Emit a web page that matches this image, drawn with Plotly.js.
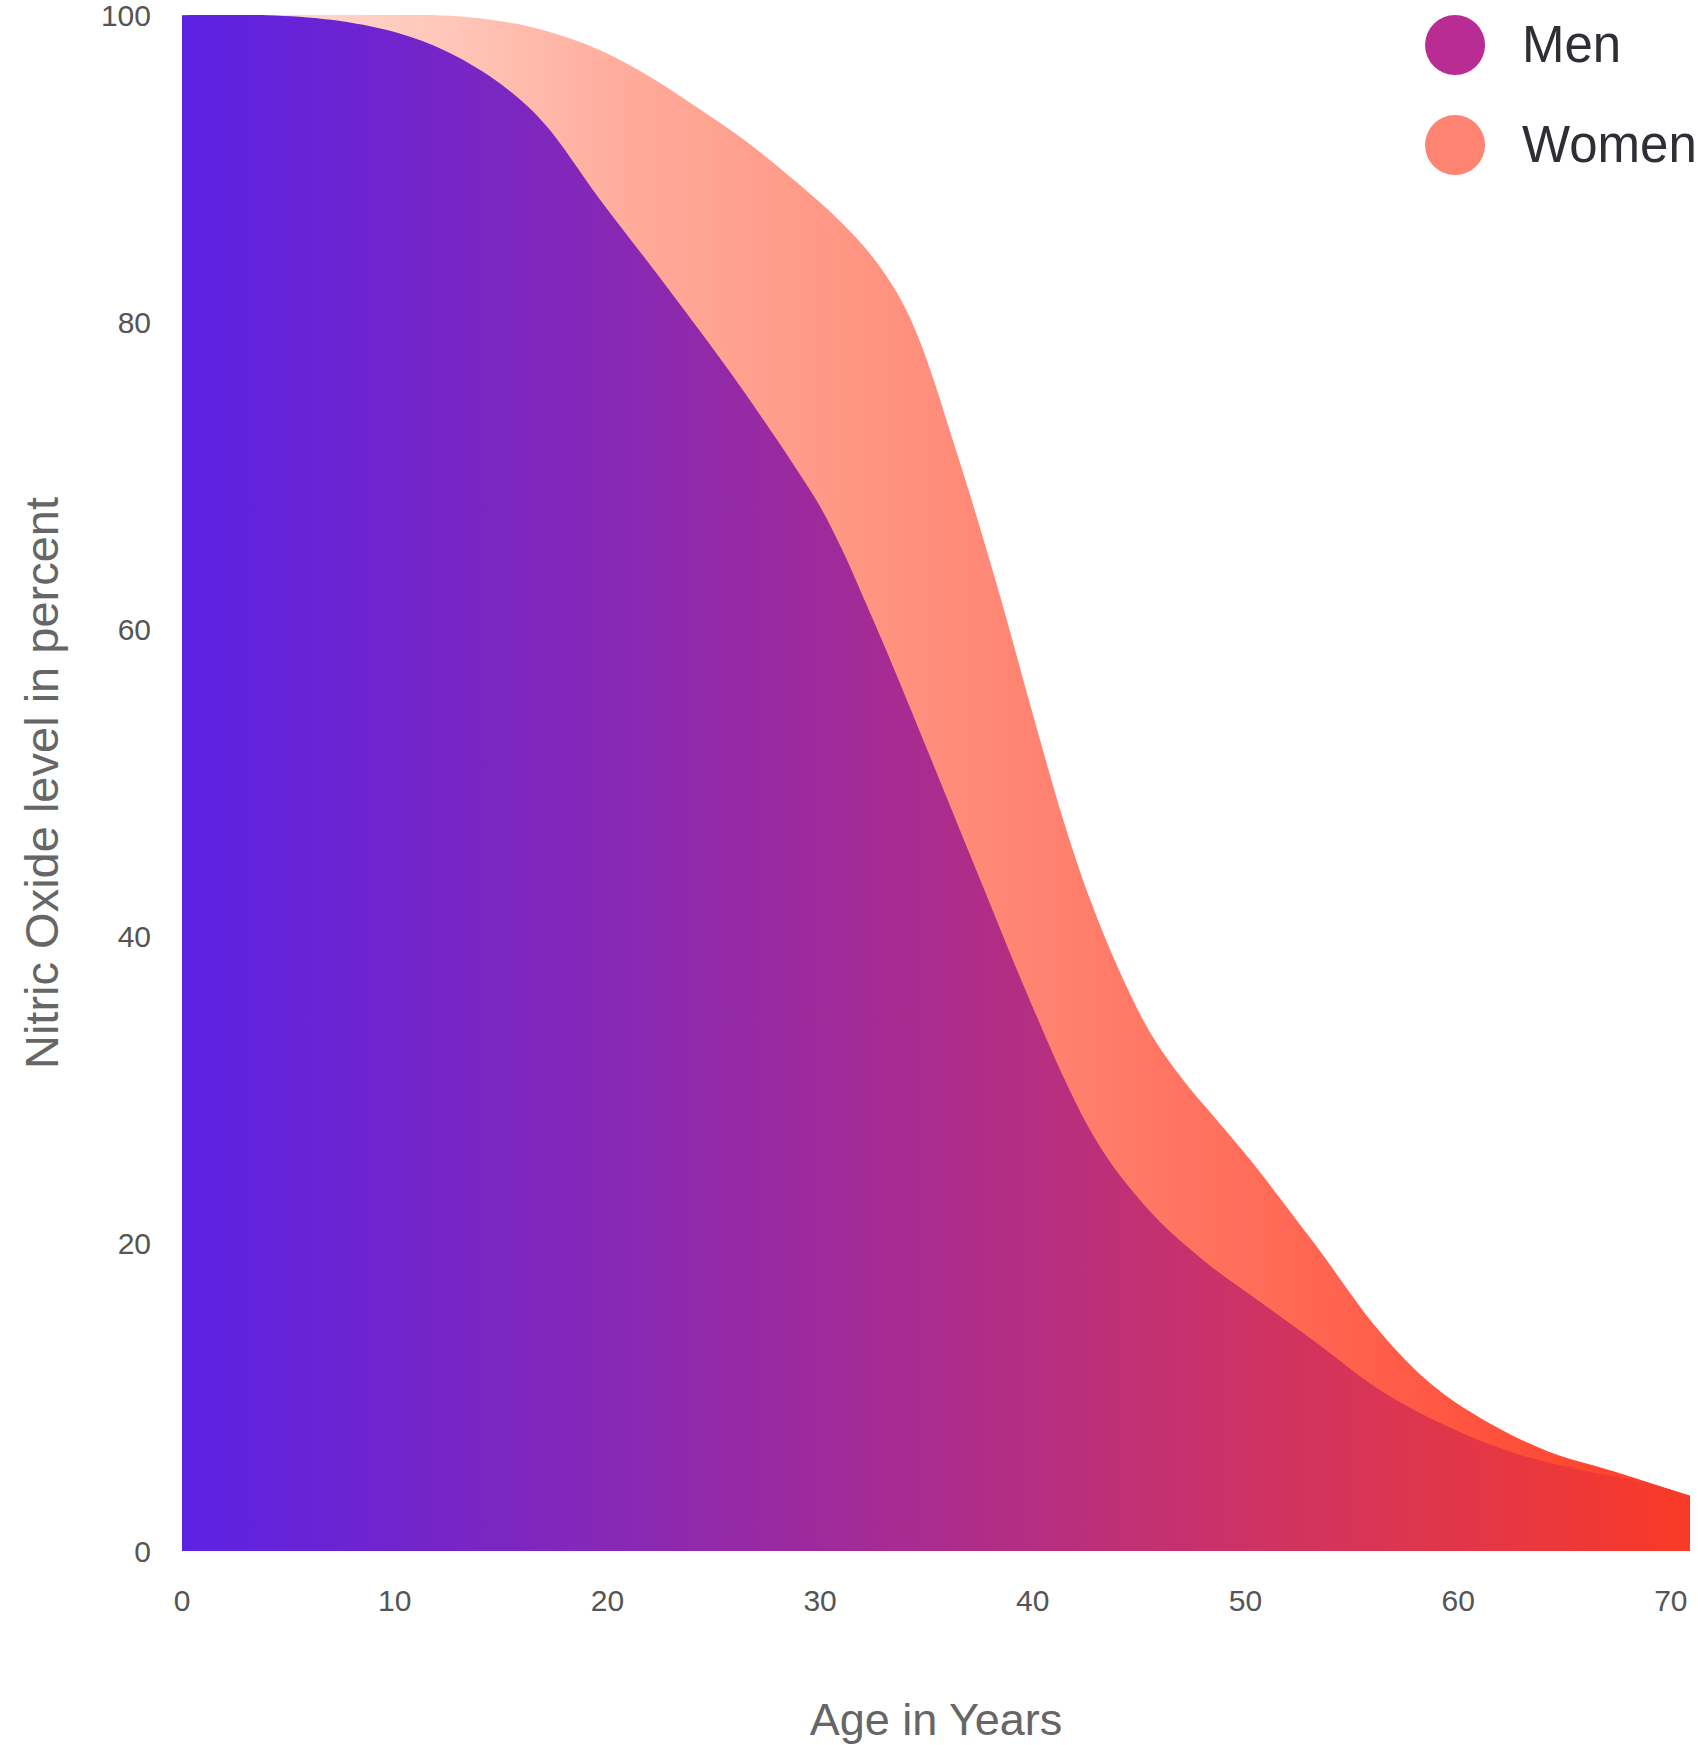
<!DOCTYPE html>
<html>
<head>
<meta charset="utf-8">
<script src="https://cdn.plot.ly/plotly-3.0.1.min.js"></script>
<style>
  html, body { margin: 0; padding: 0; background: #ffffff; }
  #chart { width: 1698px; height: 1745px; }
</style>
</head>
<body>
<div id="chart"></div>
<script>
// Age (years) and nitric oxide level (%)
const menAge   = [0, 4, 7, 10, 12.5, 15, 17, 19.65, 22.8, 25.9, 28, 29, 30, 31, 32, 33, 34.5, 36, 37.5, 39, 40.5, 41.5, 42.5, 43.5, 44.7, 46, 47.1, 48.5, 50.1, 53.2, 56.3, 59.5, 62.6, 65.7, 68.9, 70.9];
const menLevel = [100, 100, 99.7, 98.9, 97.6, 95.5, 93.0, 88.0, 82.3, 76.5, 72.3, 70.2, 68.0, 65.3, 62.2, 59.0, 54.0, 48.9, 43.8, 38.7, 33.8, 30.7, 27.9, 25.6, 23.4, 21.4, 20.0, 18.4, 16.8, 13.7, 10.5, 8.1, 6.4, 5.3, 4.4, 3.6];

const womenAge   = [0, 12, 14, 16.5, 19, 21.5, 24, 26.5, 29, 31, 32.5, 33.75, 34.6, 35.4, 36.2, 37, 38.5, 40, 41.5, 42.7, 44, 45.5, 47, 48.5, 50.2, 53.2, 56.3, 58.7, 61, 64.2, 67.3, 70.9];
const womenLevel = [100, 100, 99.8, 99.2, 98.1, 96.4, 94.2, 91.8, 89.0, 86.5, 84.2, 81.6, 79.1, 76.0, 72.5, 69.0, 62.0, 54.5, 47.3, 42.4, 38.0, 33.8, 30.8, 28.3, 25.5, 20.1, 14.3, 10.9, 8.7, 6.5, 5.2, 3.6];

const xTicks = [0, 10, 20, 30, 40, 50, 60, 70];
const yTicks = [0, 20, 40, 60, 80, 100];
const seriesNames = ["Men", "Women"];

const menScale = [
  [0.00, "#5c22e4"], [0.14, "#7024cc"], [0.28, "#8628b6"], [0.42, "#9e2a9c"],
  [0.56, "#b42e82"], [0.70, "#cc3266"], [0.84, "#e0364a"], [1.00, "#fa3a26"]
];
const womenScale = [
  [0.00, "#ffe2da"], [0.18, "#ffc6b8"], [0.30, "#ffaa9a"], [0.45, "#ff9583"],
  [0.58, "#ff816f"], [0.72, "#ff6b57"], [0.85, "#ff5540"], [1.00, "#ff3b23"]
];

const women = {
  x: womenAge, y: womenLevel, name: seriesNames[1], type: "scatter", mode: "lines",
  line: { width: 0, shape: "spline", smoothing: 1, color: "#ff8472" },
  fill: "tozeroy",
  fillgradient: { type: "horizontal", start: 0, stop: 70.9, colorscale: womenScale },
  hoverinfo: "skip"
};
const men = {
  x: menAge, y: menLevel, name: seriesNames[0], type: "scatter", mode: "lines",
  line: { width: 0, shape: "spline", smoothing: 1, color: "#b62c96" },
  fill: "tozeroy",
  fillgradient: { type: "horizontal", start: 0, stop: 70.9, colorscale: menScale },
  hoverinfo: "skip"
};

const FONT = "Liberation Sans, Arial, Helvetica, sans-serif";
const legendY = [0.9805, 0.9154];
const legendColors = ["#b82c94", "#ff8472"];

const shapes = legendY.map((yy, i) => ({
  type: "circle", xref: "paper", yref: "paper",
  xsizemode: "pixel", ysizemode: "pixel",
  xanchor: 0.8442, yanchor: yy,
  x0: -30, x1: 30, y0: -30, y1: 30,
  fillcolor: legendColors[i], line: { width: 0 }
}));
const annotations = legendY.map((yy, i) => ({
  xref: "paper", yref: "paper", x: 0.887, y: yy,
  xanchor: "left", yanchor: "middle", showarrow: false,
  text: seriesNames[i], font: { family: FONT, size: 51, color: "#2e2f35" }
}));

const layout = {
  width: 1698, height: 1745,
  margin: { l: 182, r: 8, t: 15, b: 194 },
  paper_bgcolor: "#ffffff", plot_bgcolor: "#ffffff",
  showlegend: false,
  xaxis: {
    range: [0, 70.9], tickvals: xTicks, ticks: "", showgrid: false, zeroline: false,
    showline: false, ticklabelstandoff: 29,
    tickfont: { family: FONT, size: 30, color: "#555555" },
    title: { text: "Age in Years", font: { family: FONT, size: 45, color: "#666666" }, standoff: 88 }
  },
  yaxis: {
    range: [0, 100.01], tickvals: yTicks, ticks: "", showgrid: false, zeroline: false,
    showline: false, ticklabelstandoff: 30, ticklabeloverflow: "allow",
    tickfont: { family: FONT, size: 30, color: "#555555" },
    title: { text: "Nitric Oxide level in percent", font: { family: FONT, size: 47, color: "#666666" }, standoff: 27 }
  },
  shapes: shapes,
  annotations: annotations
};

Plotly.newPlot("chart", [women, men], layout, { staticPlot: true, displayModeBar: false });
</script>
</body>
</html>
